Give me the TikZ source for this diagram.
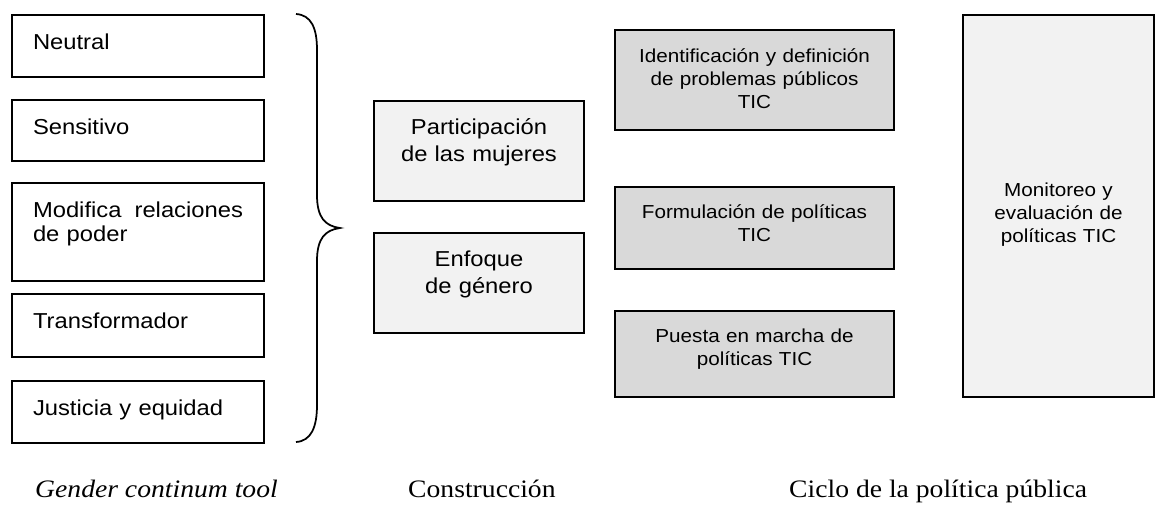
\documentclass[tikz,border=0pt]{standalone}
\usepackage{fontspec}
\setmainfont{Liberation Serif}[FakeStretch=1.1]
\setsansfont{Liberation Sans}[FakeStretch=1.1]
\usepackage{tikz}
\definecolor{lightfill}{HTML}{F2F2F2}
\definecolor{darkfill}{HTML}{D9D9D9}

\begin{document}
\begin{tikzpicture}[
	box/.style={draw, line width=0.04cm, anchor=north west, inner ysep=0pt, font=\sffamily\fontsize{10.7}{13.1}\selectfont},
	level/.style={box, align=left, text width=4.2cm, inner xsep=0.42cm, text height=0.68cm, font=\sffamily\fontsize{12.3}{13.9}\selectfont},
	part/.style={box, fill=lightfill, align=center, text width=4.0cm, inner xsep=0.1cm, text height=0.66cm, text depth=1.34cm, font=\sffamily\fontsize{12.3}{15.93}\selectfont},
	stage/.style={box, fill=darkfill, align=center, text width=5.3cm, inner xsep=0.14cm},
	caption/.style={anchor=base west, font=\fontsize{14.3}{17}\selectfont}]
			\useasboundingbox (0,0) rectangle (23.1,-10.16);
			% gender continum
			\node (neutral) at (0.22,-0.28) [level, text depth=0.56cm] {Neutral};
			\node (sensitivo) at (0.22,-1.98) [level, text depth=0.54cm] {Sensitivo};
			\node (modifica) at (0.22,-3.64) [level, text depth=1.28cm] {Modifica\hfill relaciones\\de poder};
			\node (transformador) at (0.22,-5.86) [level, text depth=0.58cm] {Transformador};
			\node (justicia) at (0.22,-7.60) [level, text depth=0.56cm] {Justicia y equidad};
			\draw[line width=0.035cm] (5.92,-0.28) .. controls (6.22,-0.30) and (6.34,-0.55) .. (6.34,-1.00) -- (6.34,-3.90)
				.. controls (6.34,-4.35) and (6.50,-4.52) .. (6.80,-4.56)
				.. controls (6.50,-4.60) and (6.34,-4.77) .. (6.34,-5.22) -- (6.34,-8.10)
				.. controls (6.34,-8.55) and (6.22,-8.82) .. (5.92,-8.84);
			% construccion
			\node (participacion) at (7.46,-2.00) [part] {Participación\\de las mujeres};
			\node (enfoque) at (7.46,-4.64) [part] {Enfoque\\de género};
			% ciclo
			\node (identificacion) at (12.28,-0.58) [stage, text height=0.64cm, text depth=1.36cm] {Identificación y definición\\de problemas públicos\\TIC};
			\node (formulacion) at (12.28,-3.72) [stage, text height=0.62cm, text depth=1.02cm] {Formulación de políticas\\TIC};
			\node (puesta) at (12.28,-6.20) [stage, text height=0.62cm, text depth=1.10cm] {Puesta en marcha de\\políticas TIC};
			\node (monitoreo) at (19.24,-0.28) [box, fill=lightfill, align=center, text width=3.6cm, inner xsep=0.11cm, text height=3.62cm, text depth=4.02cm] {Monitoreo y\\evaluación de\\políticas TIC};
			% pies
			\node (gender) at (0.58,-9.94) [caption] {\itshape Gender continum tool};
			\node (construccion) at (8.04,-9.94) [caption] {Construcción};
			\node (ciclo) at (15.66,-9.94) [caption] {Ciclo de la política pública};
		\end{tikzpicture}
\end{document}
